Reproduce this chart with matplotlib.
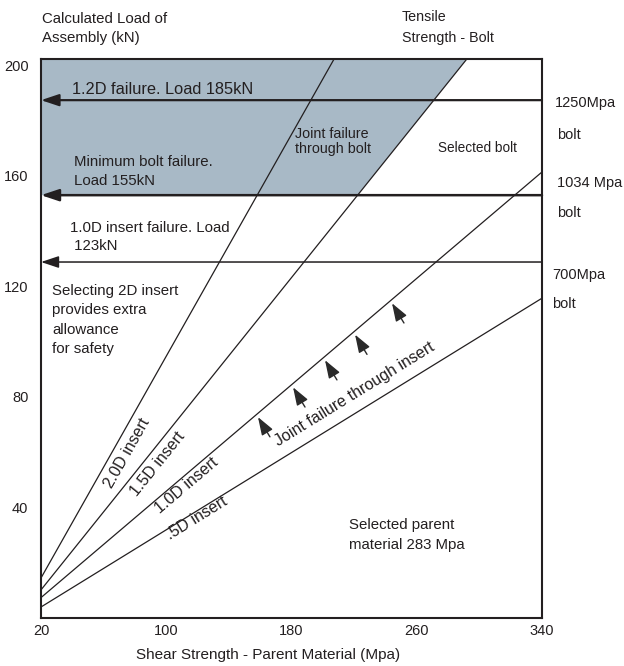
import numpy as np
import matplotlib.pyplot as plt

plt.rcParams['font.family'] = ['Liberation Sans', 'DejaVu Sans']
INK = '#231f20'
SHADE = '#a8b9c6'

# valores
shear_ticks = [20, 100, 180, 260, 340]
load_ticks = [40, 80, 120, 160, 200]
y_top = 202.2

insert_names = ['2.0D insert', '1.5D insert', '1.0D insert', '.5D insert']
insert_x0 = [20, 20, 20, 20]
insert_y0 = [14.3, 10.0, 7.2, 3.8]
insert_x1 = [207.2, 292.0, 340, 340]
insert_y1 = [202.2, 202.2, 161.3, 115.6]

failure_loads = [187.3, 152.9, 128.7]
failure_lw = [1.6, 1.8, 1.1]

# flechas pequenas bajo la linea 1.0D
arrow_shear = [158.6, 181.0, 201.4, 220.6, 244.2]

fig = plt.figure(figsize=(6.24, 6.66), dpi=100)
ax = fig.add_axes([41 / 624, 48.5 / 666, 501 / 624, 558.5 / 666])
ax.set_xlim(20, 340)
ax.set_ylim(0, y_top)

for s in ax.spines.values():
    s.set_linewidth(1.5)
    s.set_color(INK)
ax.set_xticks(shear_ticks)
ax.set_yticks(load_ticks)
ax.tick_params(length=0, labelsize=10.5, labelcolor=INK)
ax.tick_params(axis='x', pad=5)
ax.tick_params(axis='y', pad=9)


def angle(x0, y0, x1, y1):
    p = ax.transData.transform([(x0, y0), (x1, y1)])
    return np.degrees(np.arctan2(p[1, 1] - p[0, 1], p[1, 0] - p[0, 0]))


# zona sombreada: falla por el perno
k = 1
slope = (insert_y1[k] - insert_y0[k]) / (insert_x1[k] - insert_x0[k])
x_cross = insert_x0[k] + (failure_loads[1] - insert_y0[k]) / slope
ax.fill([20, x_cross, insert_x1[k], 20],
        [failure_loads[1], failure_loads[1], y_top, y_top],
        color=SHADE, lw=0, zorder=0)

# lineas de inserto
for i in range(len(insert_names)):
    ax.plot([insert_x0[i], insert_x1[i]], [insert_y0[i], insert_y1[i]],
            color=INK, lw=0.9)

# cargas de falla con flecha hacia el eje
for y, w in zip(failure_loads, failure_lw):
    ax.annotate('', xy=(20, y), xytext=(340, y),
                arrowprops=dict(arrowstyle='-|>,head_length=0.9,head_width=0.3',
                                mutation_scale=12, lw=w, color=INK,
                                shrinkA=0, shrinkB=0))

# flechas "Joint failure through insert"
m = (insert_y1[2] - insert_y0[2]) / (insert_x1[2] - insert_x0[2])
for x in arrow_shear:
    y = insert_y0[2] + m * (x - insert_x0[2]) - 1.4
    ax.annotate('', xy=(x, y), xytext=(8.6, -14.2), textcoords='offset points',
                arrowprops=dict(arrowstyle='-|>,head_length=1.0,head_width=0.35',
                                mutation_scale=11, lw=1.0, color='#2a2a2a',
                                shrinkA=0, shrinkB=0))

# etiquetas de las lineas de inserto
label_xy = [(74.9, 59.5), (94.4, 55.6), (113.3, 47.9), (119.8, 35.9)]
for i, (lx, ly) in enumerate(label_xy):
    rot = angle(insert_x0[i], insert_y0[i], insert_x1[i], insert_y1[i])
    ax.text(lx, ly, insert_names[i], rotation=rot, rotation_mode='anchor',
            ha='center', va='center', fontsize=11.5, color=INK)

rot = angle(insert_x0[3], insert_y0[3], insert_x1[3], insert_y1[3])
ax.text(220.6, 80.9, 'Joint failure through insert', rotation=rot,
        rotation_mode='anchor', ha='center', va='center', fontsize=11.5, color=INK)

# textos
ax.text(39.8, 191.3, '1.2D failure. Load 185kN', fontsize=11.8, color=INK,
        ha='left', va='center')
ax.text(41.1, 161.4, 'Minimum bolt failure.\nLoad 155kN', fontsize=10.8, color=INK,
        ha='left', va='center', linespacing=1.5)
ax.text(38.5, 137.9, '1.0D insert failure. Load\n 123kN', fontsize=10.8, color=INK,
        ha='left', va='center', linespacing=1.35)
ax.text(27.0, 107.7, 'Selecting 2D insert\nprovides extra\nallowance\nfor safety',
        fontsize=10.8, color=INK, ha='left', va='center', linespacing=1.48)
ax.text(182.2, 172.2, 'Joint failure\nthrough bolt', fontsize=10.3, color=INK,
        ha='left', va='center', linespacing=1.1)
ax.text(273.6, 169.9, 'Selected bolt', fontsize=9.8, color=INK, ha='left', va='center')
ax.text(216.7, 29.9, 'Selected parent\nmaterial 283 Mpa', fontsize=10.8, color=INK,
        ha='left', va='center', linespacing=1.55)

# etiquetas a la derecha (resistencia del perno)
ax.text(348.0, 186.2, '1250Mpa', fontsize=10.5, color=INK, ha='left', va='center')
ax.text(349.3, 174.6, 'bolt', fontsize=10.5, color=INK, ha='left', va='center')
ax.text(349.3, 157.3, '1034 Mpa', fontsize=10.5, color=INK, ha='left', va='center')
ax.text(349.3, 146.4, 'bolt', fontsize=10.5, color=INK, ha='left', va='center')
ax.text(346.4, 124.0, '700Mpa', fontsize=10.5, color=INK, ha='left', va='center')
ax.text(346.4, 113.5, 'bolt', fontsize=10.5, color=INK, ha='left', va='center')

# titulos de ejes
ax.text(20.4, 213.2, 'Calculated Load of\nAssembly (kN)', fontsize=10.8, color=INK,
        ha='left', va='center', linespacing=1.5)
ax.text(250.6, 213.6, 'Tensile\nStrength - Bolt', fontsize=10.3, color=INK,
        ha='left', va='center', linespacing=1.65)
ax.text(165.3, -13.6, 'Shear Strength - Parent Material (Mpa)', fontsize=11,
        color=INK, ha='center', va='center')

fig.savefig('out.png', dpi=100)
